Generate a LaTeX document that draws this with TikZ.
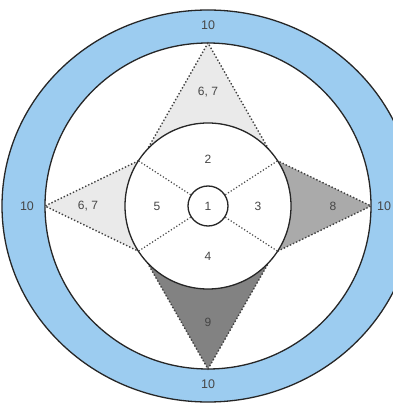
\documentclass[tikz,border=0pt]{standalone}
\usepackage{fontspec}
\setmainfont{Liberation Sans}
\usetikzlibrary{calc}
\definecolor{ringblue}{RGB}{156,204,240}
\definecolor{paleshade}{RGB}{234,234,234}
\definecolor{midshade}{RGB}{170,170,170}
\definecolor{darkshade}{RGB}{130,130,130}
\definecolor{inkgray}{RGB}{70,70,70}

\begin{document}
\begin{tikzpicture}[
    x=1pt, y=1pt,
    rim/.style={draw=black!85, line width=1.3pt},
    zone/.style={circle, draw=black!85, fill=white, line width=1.3pt, inner sep=0pt},
    wedge/.style={draw=black!75, line width=1.4pt, dotted},
    spoke/.style={draw=black!70, line width=1.2pt, dotted},
    zonelabel/.style={font=\fontsize{12}{14}\selectfont, text=inkgray},
    ringlabel/.style={font=\fontsize{12.5}{14}\selectfont, text=inkgray}
]
    \useasboundingbox (-208,-197) rectangle (184,206);

    % Outer ring
    \fill[ringblue, even odd rule] (0,0) ellipse [x radius=206, y radius=196] (0,0) circle [radius=163];
    \draw[rim] (0,0) ellipse [x radius=206, y radius=196];
    \draw[rim] (0,0) circle [radius=163];

    % Star points
    \foreach \nm/\dir/\wa/\wb/\shade in {N/90/43/137/paleshade, W/180/147/213/paleshade, E/0/-33/33/midshade, S/270/223/317/darkshade} {
        \coordinate (\nm tip) at (\dir:163);
        \coordinate (\nm a) at (\wa:83);
        \coordinate (\nm b) at (\wb:83);
        \fill[\shade] (\nm tip) -- (\nm a) -- (\nm b) -- cycle;
        \draw[wedge] (\nm a) -- (\nm tip) -- (\nm b);
    }

    % Zones
    \node[zone, minimum size=166pt] (core) at (0,0) {};
    \node[zone, minimum size=40pt, zonelabel] (hub) at (0,0) {1};
    \foreach \a in {33,147,213,327}
        \draw[spoke] (hub.\a) -- (core.\a);

    % Labels
    \node[zonelabel] (z2) at (0,47) {2};
    \node[zonelabel] (z3) at (50,0) {3};
    \node[zonelabel] (z4) at (0,-50) {4};
    \node[zonelabel] (z5) at (-51,0) {5};
    \node[zonelabel] (z67n) at (0,114) {6, 7};
    \node[zonelabel] (z67w) at (-120,0) {6, 7};
    \node[zonelabel] (z8) at (125,0) {8};
    \node[zonelabel] (z9) at (0,-116) {9};
    \node[ringlabel] (rn) at (0,181) {10};
    \node[ringlabel] (rs) at (0,-178) {10};
    \node[ringlabel] (rw) at (-181,0) {10};
    \node[ringlabel] (re) at (176,0) {10};

\end{tikzpicture}
\end{document}
